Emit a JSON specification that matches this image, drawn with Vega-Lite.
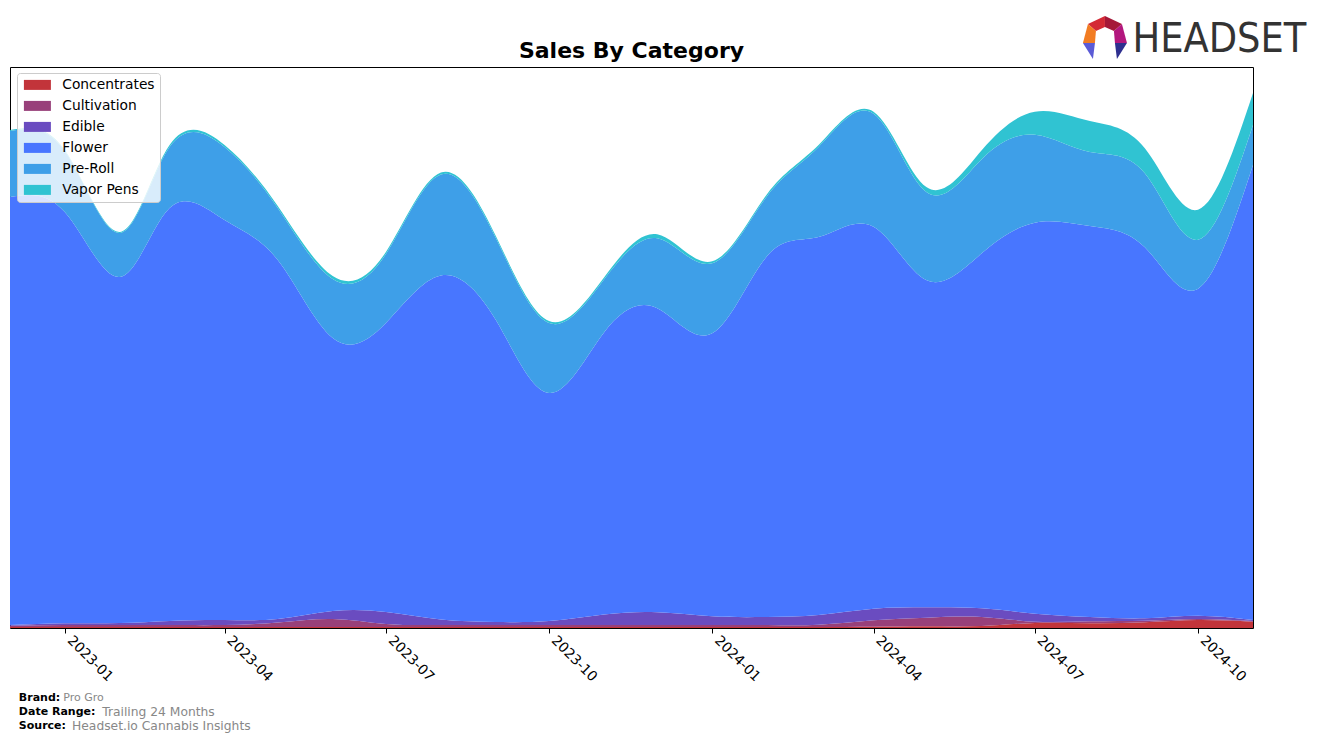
{
  "$schema": "https://vega.github.io/schema/vega-lite/v6.json",
  "autosize": {"type": "none"},
  "padding": {"left": 10, "top": 67, "right": 64, "bottom": 115},
  "width": 1243,
  "height": 561,
  "background": "#ffffff",
  "title": {"text": "Sales By Category", "fontSize": 22, "font": "DejaVu Sans", "fontWeight": "bold", "anchor": "middle", "offset": 8, "dy": 55, "color": "#000000"},
  "config": {
    "view": {"stroke": "#000000", "strokeWidth": 1},
    "font": "DejaVu Sans"
  },
  "layer": [
    {
      "data": {"values": [
        {"date": "2022-12-01", "category": "Concentrates", "sales": 1}, {"date": "2022-12-01", "category": "Cultivation", "sales": 1.3}, {"date": "2022-12-01", "category": "Edible", "sales": 0.7}, {"date": "2022-12-01", "category": "Flower", "sales": 428}, {"date": "2022-12-01", "category": "Pre-Roll", "sales": 66}, {"date": "2022-12-01", "category": "Vapor Pens", "sales": 1},
        {"date": "2023-01-01", "category": "Concentrates", "sales": 1}, {"date": "2023-01-01", "category": "Cultivation", "sales": 2}, {"date": "2023-01-01", "category": "Edible", "sales": 1.7}, {"date": "2023-01-01", "category": "Flower", "sales": 411}, {"date": "2023-01-01", "category": "Pre-Roll", "sales": 61}, {"date": "2023-01-01", "category": "Vapor Pens", "sales": 1},
        {"date": "2023-02-01", "category": "Concentrates", "sales": 1}, {"date": "2023-02-01", "category": "Cultivation", "sales": 2}, {"date": "2023-02-01", "category": "Edible", "sales": 2}, {"date": "2023-02-01", "category": "Flower", "sales": 346}, {"date": "2023-02-01", "category": "Pre-Roll", "sales": 44}, {"date": "2023-02-01", "category": "Vapor Pens", "sales": 1},
        {"date": "2023-03-01", "category": "Concentrates", "sales": 1}, {"date": "2023-03-01", "category": "Cultivation", "sales": 2}, {"date": "2023-03-01", "category": "Edible", "sales": 4}, {"date": "2023-03-01", "category": "Flower", "sales": 413}, {"date": "2023-03-01", "category": "Pre-Roll", "sales": 61}, {"date": "2023-03-01", "category": "Vapor Pens", "sales": 2},
        {"date": "2023-04-01", "category": "Concentrates", "sales": 1}, {"date": "2023-04-01", "category": "Cultivation", "sales": 2}, {"date": "2023-04-01", "category": "Edible", "sales": 5}, {"date": "2023-04-01", "category": "Flower", "sales": 400}, {"date": "2023-04-01", "category": "Pre-Roll", "sales": 73}, {"date": "2023-04-01", "category": "Vapor Pens", "sales": 2},
        {"date": "2023-05-01", "category": "Concentrates", "sales": 1}, {"date": "2023-05-01", "category": "Cultivation", "sales": 4.5}, {"date": "2023-05-01", "category": "Edible", "sales": 3.5}, {"date": "2023-05-01", "category": "Flower", "sales": 359}, {"date": "2023-05-01", "category": "Pre-Roll", "sales": 52}, {"date": "2023-05-01", "category": "Vapor Pens", "sales": 2},
        {"date": "2023-06-01", "category": "Concentrates", "sales": 1}, {"date": "2023-06-01", "category": "Cultivation", "sales": 8}, {"date": "2023-06-01", "category": "Edible", "sales": 8}, {"date": "2023-06-01", "category": "Flower", "sales": 273}, {"date": "2023-06-01", "category": "Pre-Roll", "sales": 59}, {"date": "2023-06-01", "category": "Vapor Pens", "sales": 3},
        {"date": "2023-07-01", "category": "Concentrates", "sales": 1}, {"date": "2023-07-01", "category": "Cultivation", "sales": 3}, {"date": "2023-07-01", "category": "Edible", "sales": 12}, {"date": "2023-07-01", "category": "Flower", "sales": 289}, {"date": "2023-07-01", "category": "Pre-Roll", "sales": 69}, {"date": "2023-07-01", "category": "Vapor Pens", "sales": 2},
        {"date": "2023-08-01", "category": "Concentrates", "sales": 1}, {"date": "2023-08-01", "category": "Cultivation", "sales": 2}, {"date": "2023-08-01", "category": "Edible", "sales": 5.5}, {"date": "2023-08-01", "category": "Flower", "sales": 344}, {"date": "2023-08-01", "category": "Pre-Roll", "sales": 101}, {"date": "2023-08-01", "category": "Vapor Pens", "sales": 2},
        {"date": "2023-09-01", "category": "Concentrates", "sales": 1}, {"date": "2023-09-01", "category": "Cultivation", "sales": 2}, {"date": "2023-09-01", "category": "Edible", "sales": 3}, {"date": "2023-09-01", "category": "Flower", "sales": 302}, {"date": "2023-09-01", "category": "Pre-Roll", "sales": 82}, {"date": "2023-09-01", "category": "Vapor Pens", "sales": 2},
        {"date": "2023-10-01", "category": "Concentrates", "sales": 1}, {"date": "2023-10-01", "category": "Cultivation", "sales": 2}, {"date": "2023-10-01", "category": "Edible", "sales": 4}, {"date": "2023-10-01", "category": "Flower", "sales": 228}, {"date": "2023-10-01", "category": "Pre-Roll", "sales": 70}, {"date": "2023-10-01", "category": "Vapor Pens", "sales": 2},
        {"date": "2023-11-01", "category": "Concentrates", "sales": 1}, {"date": "2023-11-01", "category": "Cultivation", "sales": 2}, {"date": "2023-11-01", "category": "Edible", "sales": 10.5}, {"date": "2023-11-01", "category": "Flower", "sales": 282}, {"date": "2023-11-01", "category": "Pre-Roll", "sales": 53}, {"date": "2023-11-01", "category": "Vapor Pens", "sales": 2},
        {"date": "2023-12-01", "category": "Concentrates", "sales": 1}, {"date": "2023-12-01", "category": "Cultivation", "sales": 2}, {"date": "2023-12-01", "category": "Edible", "sales": 12.7}, {"date": "2023-12-01", "category": "Flower", "sales": 304}, {"date": "2023-12-01", "category": "Pre-Roll", "sales": 70}, {"date": "2023-12-01", "category": "Vapor Pens", "sales": 4},
        {"date": "2024-01-01", "category": "Concentrates", "sales": 1}, {"date": "2024-01-01", "category": "Cultivation", "sales": 2}, {"date": "2024-01-01", "category": "Edible", "sales": 8.7}, {"date": "2024-01-01", "category": "Flower", "sales": 283}, {"date": "2024-01-01", "category": "Pre-Roll", "sales": 70}, {"date": "2024-01-01", "category": "Vapor Pens", "sales": 2},
        {"date": "2024-02-01", "category": "Concentrates", "sales": 1}, {"date": "2024-02-01", "category": "Cultivation", "sales": 2}, {"date": "2024-02-01", "category": "Edible", "sales": 8}, {"date": "2024-02-01", "category": "Flower", "sales": 361}, {"date": "2024-02-01", "category": "Pre-Roll", "sales": 60}, {"date": "2024-02-01", "category": "Vapor Pens", "sales": 2},
        {"date": "2024-03-01", "category": "Concentrates", "sales": 1}, {"date": "2024-03-01", "category": "Cultivation", "sales": 2.3}, {"date": "2024-03-01", "category": "Edible", "sales": 9.7}, {"date": "2024-03-01", "category": "Flower", "sales": 378}, {"date": "2024-03-01", "category": "Pre-Roll", "sales": 90}, {"date": "2024-03-01", "category": "Vapor Pens", "sales": 2},
        {"date": "2024-04-01", "category": "Concentrates", "sales": 1.3}, {"date": "2024-04-01", "category": "Cultivation", "sales": 6.4}, {"date": "2024-04-01", "category": "Edible", "sales": 11.6}, {"date": "2024-04-01", "category": "Flower", "sales": 382}, {"date": "2024-04-01", "category": "Pre-Roll", "sales": 113}, {"date": "2024-04-01", "category": "Vapor Pens", "sales": 2},
        {"date": "2024-05-01", "category": "Concentrates", "sales": 1.7}, {"date": "2024-05-01", "category": "Cultivation", "sales": 8.6}, {"date": "2024-05-01", "category": "Edible", "sales": 10.4}, {"date": "2024-05-01", "category": "Flower", "sales": 327}, {"date": "2024-05-01", "category": "Pre-Roll", "sales": 88}, {"date": "2024-05-01", "category": "Vapor Pens", "sales": 5},
        {"date": "2024-06-01", "category": "Concentrates", "sales": 2}, {"date": "2024-06-01", "category": "Cultivation", "sales": 9}, {"date": "2024-06-01", "category": "Edible", "sales": 8.7}, {"date": "2024-06-01", "category": "Flower", "sales": 355}, {"date": "2024-06-01", "category": "Pre-Roll", "sales": 94}, {"date": "2024-06-01", "category": "Vapor Pens", "sales": 9},
        {"date": "2024-07-01", "category": "Concentrates", "sales": 5}, {"date": "2024-07-01", "category": "Cultivation", "sales": 1.3}, {"date": "2024-07-01", "category": "Edible", "sales": 8}, {"date": "2024-07-01", "category": "Flower", "sales": 391}, {"date": "2024-07-01", "category": "Pre-Roll", "sales": 88}, {"date": "2024-07-01", "category": "Vapor Pens", "sales": 23},
        {"date": "2024-08-01", "category": "Concentrates", "sales": 4.7}, {"date": "2024-08-01", "category": "Cultivation", "sales": 2}, {"date": "2024-08-01", "category": "Edible", "sales": 4.3}, {"date": "2024-08-01", "category": "Flower", "sales": 391}, {"date": "2024-08-01", "category": "Pre-Roll", "sales": 74}, {"date": "2024-08-01", "category": "Vapor Pens", "sales": 31},
        {"date": "2024-09-01", "category": "Concentrates", "sales": 5.7}, {"date": "2024-09-01", "category": "Cultivation", "sales": 1.6}, {"date": "2024-09-01", "category": "Edible", "sales": 2.4}, {"date": "2024-09-01", "category": "Flower", "sales": 371}, {"date": "2024-09-01", "category": "Pre-Roll", "sales": 74}, {"date": "2024-09-01", "category": "Vapor Pens", "sales": 25},
        {"date": "2024-10-01", "category": "Concentrates", "sales": 8}, {"date": "2024-10-01", "category": "Cultivation", "sales": 1}, {"date": "2024-10-01", "category": "Edible", "sales": 3.3}, {"date": "2024-10-01", "category": "Flower", "sales": 327}, {"date": "2024-10-01", "category": "Pre-Roll", "sales": 49}, {"date": "2024-10-01", "category": "Vapor Pens", "sales": 30},
        {"date": "2024-11-01", "category": "Concentrates", "sales": 6.3}, {"date": "2024-11-01", "category": "Cultivation", "sales": 0.7}, {"date": "2024-11-01", "category": "Edible", "sales": 1}, {"date": "2024-11-01", "category": "Flower", "sales": 455}, {"date": "2024-11-01", "category": "Pre-Roll", "sales": 40}, {"date": "2024-11-01", "category": "Vapor Pens", "sales": 32}
      ]},
      "mark": {"type": "area", "interpolate": "natural", "opacity": 1},
      "encoding": {
        "x": {
          "field": "date", "type": "temporal",
          "scale": {"domain": [{"year": 2022, "month": 12, "date": 1}, {"year": 2024, "month": 11, "date": 1}], "nice": false},
          "axis": {
            "values": [{"year": 2023, "month": 1, "date": 1}, {"year": 2023, "month": 4, "date": 1}, {"year": 2023, "month": 7, "date": 1}, {"year": 2023, "month": 10, "date": 1}, {"year": 2024, "month": 1, "date": 1}, {"year": 2024, "month": 4, "date": 1}, {"year": 2024, "month": 7, "date": 1}, {"year": 2024, "month": 10, "date": 1}],
            "format": "%Y-%m", "labelAngle": 45, "labelAlign": "left", "labelBaseline": "top",
            "labelFont": "DejaVu Sans", "labelFontSize": 13.9, "labelColor": "#000000",
            "tickColor": "#000000", "tickSize": 5, "tickWidth": 1, "domain": false, "grid": false, "title": null,
            "labelPadding": 0, "labelOffset": 9, "labelOverlap": false, "labelBound": false, "labelFlush": false
          }
        },
        "y": {
          "field": "sales", "type": "quantitative", "stack": "zero",
          "scale": {"domain": [0, 561], "nice": false},
          "axis": null
        },
        "order": {"field": "category", "type": "ordinal", "sort": "ascending"},
        "color": {
          "field": "category", "type": "nominal",
          "scale": {
            "domain": ["Concentrates", "Cultivation", "Edible", "Flower", "Pre-Roll", "Vapor Pens"],
            "range": ["#C2343A", "#98407A", "#6A4CC0", "#4876FF", "#3E9FE8", "#30C3D2"]
          },
          "legend": {
            "orient": "none", "legendX": 7, "legendY": 6, "title": null,
            "symbolType": "M-13.5,-5H13.5V5H-13.5Z", "symbolSize": 4, "symbolStrokeWidth": 0, "symbolOpacity": 1,
            "symbolOffset": 8.5, "labelOffset": 18,
            "labelFont": "DejaVu Sans", "labelFontSize": 13.8, "labelColor": "#000000",
            "fillColor": "rgba(255,255,255,0.8)", "strokeColor": "#cccccc", "cornerRadius": 3,
            "padding": 5, "rowPadding": 6
          }
        }
      }
    },
    {
      "data": {"values": [{}]},
      "mark": {"type": "text", "text": "Brand:", "font": "DejaVu Sans", "fontWeight": "bold", "fontSize": 11, "align": "left", "baseline": "middle", "color": "#000000"},
      "encoding": {"x": {"datum": {"year": 2022, "month": 12, "date": 6}, "type": "temporal"}, "y": {"datum": -70, "type": "quantitative"}}
    },
    {
      "data": {"values": [{}]},
      "mark": {"type": "text", "text": "Pro Gro", "font": "DejaVu Sans", "fontSize": 11, "align": "left", "baseline": "middle", "color": "#888888"},
      "encoding": {"x": {"datum": {"year": 2022, "month": 12, "date": 31}, "type": "temporal"}, "y": {"datum": -70, "type": "quantitative"}}
    },
    {
      "data": {"values": [{}]},
      "mark": {"type": "text", "text": "Date Range:", "font": "DejaVu Sans", "fontWeight": "bold", "fontSize": 11, "align": "left", "baseline": "middle", "color": "#000000"},
      "encoding": {"x": {"datum": {"year": 2022, "month": 12, "date": 6}, "type": "temporal"}, "y": {"datum": -84, "type": "quantitative"}}
    },
    {
      "data": {"values": [{}]},
      "mark": {"type": "text", "text": "Trailing 24 Months", "font": "DejaVu Sans", "fontSize": 12.3, "align": "left", "baseline": "middle", "color": "#888888"},
      "encoding": {"x": {"datum": {"year": 2023, "month": 1, "date": 22}, "type": "temporal"}, "y": {"datum": -84, "type": "quantitative"}}
    },
    {
      "data": {"values": [{}]},
      "mark": {"type": "text", "text": "Source:", "font": "DejaVu Sans", "fontWeight": "bold", "fontSize": 11, "align": "left", "baseline": "middle", "color": "#000000"},
      "encoding": {"x": {"datum": {"year": 2022, "month": 12, "date": 6}, "type": "temporal"}, "y": {"datum": -98, "type": "quantitative"}}
    },
    {
      "data": {"values": [{}]},
      "mark": {"type": "text", "text": "Headset.io Cannabis Insights", "font": "DejaVu Sans", "fontSize": 12.3, "align": "left", "baseline": "middle", "color": "#888888"},
      "encoding": {"x": {"datum": {"year": 2023, "month": 1, "date": 5}, "type": "temporal"}, "y": {"datum": -98, "type": "quantitative"}}
    },
    {
      "data": {"values": [{}]},
      "mark": {"type": "text", "text": "HEADSET", "font": "DejaVu Sans Condensed", "fontSize": 41, "align": "left", "baseline": "middle", "color": "#333333"},
      "encoding": {"x": {"datum": {"year": 2024, "month": 8, "date": 25}, "type": "temporal"}, "y": {"datum": 588, "type": "quantitative"}}
    },
    {
      "data": {"values": [{}]},
      "mark": {"type": "point", "filled": true, "opacity": 1, "strokeWidth": 0, "size": 4, "color": "#D42A35", "shape": "M0,-22L-17,-14L-9,-7L0,-11Z"},
      "encoding": {"x": {"datum": {"year": 2024, "month": 8, "date": 9, "hours": 12}, "type": "temporal"}, "y": {"datum": 590, "type": "quantitative"}}
    },
    {
      "data": {"values": [{}]},
      "mark": {"type": "point", "filled": true, "opacity": 1, "strokeWidth": 0, "size": 4, "color": "#A51838", "shape": "M0,-22L17,-14L9,-7L0,-11Z"},
      "encoding": {"x": {"datum": {"year": 2024, "month": 8, "date": 9, "hours": 12}, "type": "temporal"}, "y": {"datum": 590, "type": "quantitative"}}
    },
    {
      "data": {"values": [{}]},
      "mark": {"type": "point", "filled": true, "opacity": 1, "strokeWidth": 0, "size": 4, "color": "#F27C22", "shape": "M-17,-14L-22,5L-10,5L-9,-7Z"},
      "encoding": {"x": {"datum": {"year": 2024, "month": 8, "date": 9, "hours": 12}, "type": "temporal"}, "y": {"datum": 590, "type": "quantitative"}}
    },
    {
      "data": {"values": [{}]},
      "mark": {"type": "point", "filled": true, "opacity": 1, "strokeWidth": 0, "size": 4, "color": "#B3177E", "shape": "M17,-14L22,5L10,5L9,-7Z"},
      "encoding": {"x": {"datum": {"year": 2024, "month": 8, "date": 9, "hours": 12}, "type": "temporal"}, "y": {"datum": 590, "type": "quantitative"}}
    },
    {
      "data": {"values": [{}]},
      "mark": {"type": "point", "filled": true, "opacity": 1, "strokeWidth": 0, "size": 4, "color": "#5B5BD6", "shape": "M-22,5L-10,5L-12,21Z"},
      "encoding": {"x": {"datum": {"year": 2024, "month": 8, "date": 9, "hours": 12}, "type": "temporal"}, "y": {"datum": 590, "type": "quantitative"}}
    },
    {
      "data": {"values": [{}]},
      "mark": {"type": "point", "filled": true, "opacity": 1, "strokeWidth": 0, "size": 4, "color": "#2E2F8F", "shape": "M22,5L10,5L12,21Z"},
      "encoding": {"x": {"datum": {"year": 2024, "month": 8, "date": 9, "hours": 12}, "type": "temporal"}, "y": {"datum": 590, "type": "quantitative"}}
    }
  ]
}
